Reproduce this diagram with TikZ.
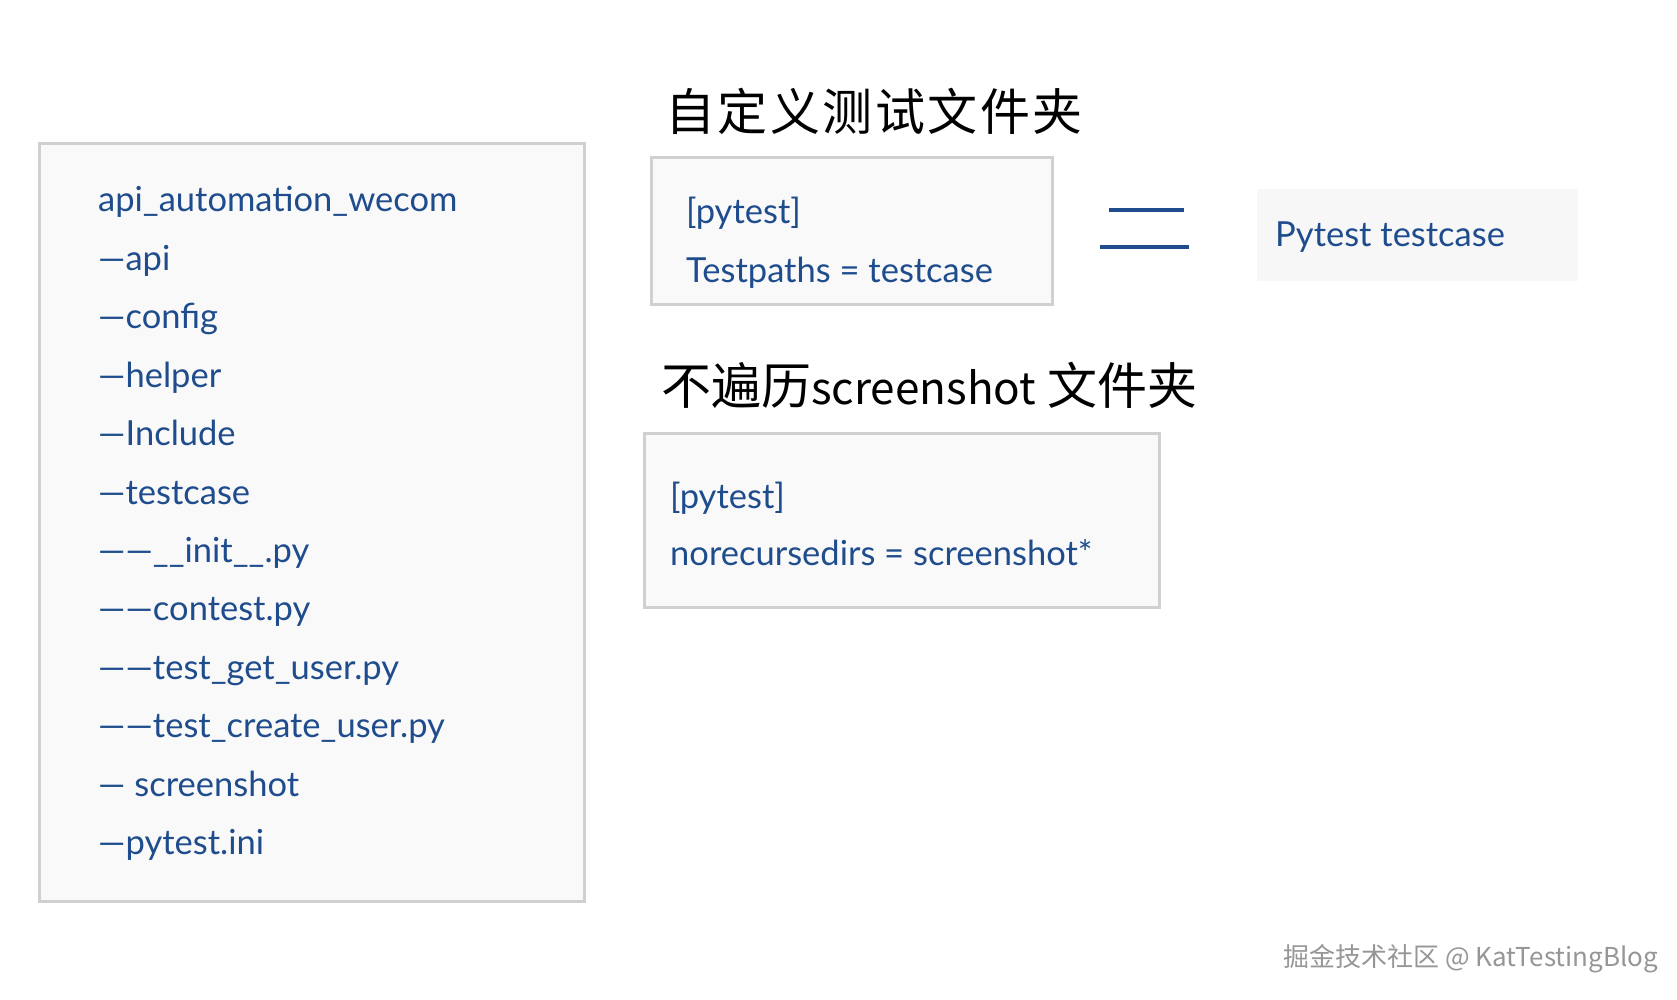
\documentclass[tikz,border=0pt]{standalone}
\usepackage{fontspec}
\setmainfont{Lato}
\newfontfamily\cjk{Noto Sans CJK SC}
\newfontfamily\cjkspaced[LetterSpace=5]{Noto Sans CJK SC}
\definecolor{inkblue}{RGB}{30,76,140}
\definecolor{boxgray}{RGB}{208,208,208}
\definecolor{boxfill}{RGB}{249,249,249}
\definecolor{softfill}{RGB}{247,247,247}
\definecolor{wmgray}{RGB}{150,150,150}
\tikzset{
  panel/.style={draw=boxgray, line width=3pt, fill=boxfill, anchor=north west, inner sep=0pt},
  softpanel/.style={fill=softfill, anchor=north west, inner sep=0pt},
  hand/.style={font=\fontsize{34.5}{42}\selectfont, text=inkblue, anchor=base west, inner sep=0pt},
  cntitle/.style={font=\cjk\fontsize{50}{60}\selectfont, text=black, anchor=west, inner sep=0pt},
  eqline/.style={draw=inkblue, line width=3.5pt}
}
\begin{document}
\begin{tikzpicture}[x=1pt,y=-1pt]
\useasboundingbox (0,0) rectangle (1677,1000);
\fill[white] (0,0) rectangle (1677,1000);

% left tree panel
\node[panel, minimum width=545pt, minimum height=758pt] (tree) at (38,142) {};
\foreach \t [count=\i from 0] in {api\_automation\_wecom, —api, —config, —helper, —Include, —testcase, ——\_\_init\_\_.py, ——contest.py, ——test\_get\_user.py, ——test\_create\_user.py, — screenshot, —pytest.ini}
  \node[hand] (li\i) at (98, 212+58.4*\i) {\t};

% titles
\node[cntitle, font=\cjkspaced\fontsize{50}{60}\selectfont] (t1) at (665,111) {自定义测试文件夹};
\node[cntitle] (t2) at (661,385) {不遍历{\fontsize{44}{50}\selectfont screenshot} 文件夹};

% testpaths box
\node[panel, minimum width=401pt, minimum height=147pt] (b1) at (650,156) {};
\node[hand] (b1a) at (686,224) {[pytest]};
\node[hand] (b1b) at (686,282.5) {Testpaths = testcase};

% equals sign
\draw[eqline] (1109,210) -- (1184,210);
\draw[eqline] (1100,247) -- (1189,247);

% result box
\node[softpanel, minimum width=321pt, minimum height=92pt] (b2) at (1257,189) {};
\node[hand] (b2a) at (1275,246.5) {Pytest testcase};

% norecursedirs box
\node[panel, minimum width=515pt, minimum height=174pt] (b3) at (643,432) {};
\node[hand] (b3a) at (670,508) {[pytest]};
\node[hand] (b3b) at (670,565.5) {norecursedirs = screenshot*};

% watermark
\node[font=\cjk\fontsize{26}{30}\selectfont, text=wmgray, anchor=west, inner sep=0pt] (wm) at (1283,959) {掘金技术社区 @ KatTestingBlog};
\end{tikzpicture}
\end{document}
